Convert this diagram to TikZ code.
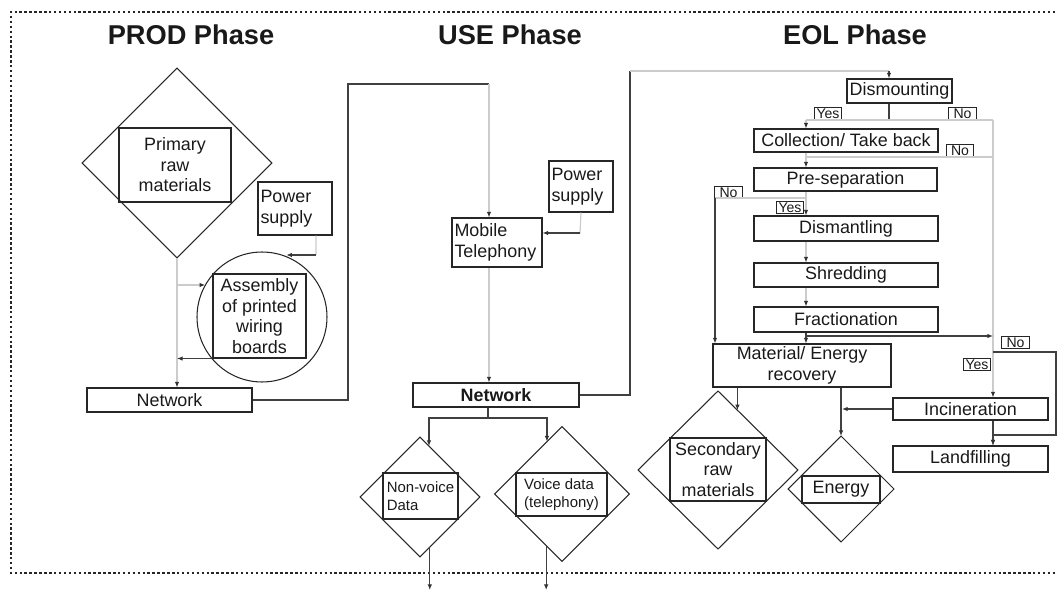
\documentclass[tikz,border=0pt]{standalone}
\usepackage{fontspec}
\setmainfont{Liberation Sans}
\usetikzlibrary{arrows.meta,shapes.geometric}
\tikzset{
	box/.style={draw=black!85, line width=0.6pt, inner sep=1pt, align=center, text=black!90, font=\fontsize{10.2}{11.7}\selectfont},
	lbox/.style={box, align=left, inner sep=0.05cm},
	dia/.style={draw=black!85, line width=0.6pt, diamond, inner sep=0pt, outer sep=0pt},
	tag/.style={draw=black!85, line width=0.5pt, inner xsep=1pt, inner ysep=0.5pt, minimum width=0.55cm, text height=5.8pt, text depth=0pt, text=black!90, font=\fontsize{8}{9}\selectfont},
	phase/.style={text=black!90, font=\bfseries\fontsize{15.5}{18}\selectfont},
	darkline/.style={draw=black!75, line width=0.7pt},
	liteline/.style={draw=black!20, line width=0.7pt},
	arr/.style={-{Latex[length=3.2pt,width=2.6pt,color=black!80]}},
	frame/.style={draw=black!85, line width=1.5pt, dash pattern=on 1.4pt off 1.4pt}
}

\begin{document}
\begin{tikzpicture}[x=0.02cm,y=-0.02cm]
			%%%%% START %%%%%
			\useasboundingbox (0,0) rectangle (1059,591);
			\draw[frame] (1055,12) -- (11,12) -- (11,573) -- (1055,573);
			
			\node[phase] (tprod) at (191,35) {PROD Phase};
			\node[phase] (tuse) at (510,35) {USE Phase};
			\node[phase] (teol) at (855,35) {EOL Phase};
			
			%% PROD
			\node[dia, minimum width=3.8cm, minimum height=3.8cm] (rawD) at (177,163) {};
			\node[box, minimum width=2.24cm, minimum height=1.48cm] (raw) at (175,165) {Primary\\raw\\materials};
			\node[lbox, minimum height=1.06cm, text width=1.38cm] (ps1) at (295,208.5) {Power\\supply};
			\node[draw=black!85, line width=0.6pt, circle, minimum size=2.6cm, inner sep=0pt, outer sep=0pt] (asmC) at (262,317) {};
			\node[box, minimum width=1.86cm, minimum height=1.68cm] (asm) at (259.5,316) {Assembly\\of printed\\wiring\\boards};
			\node[box, minimum width=3.3cm, minimum height=0.48cm] (net1) at (169.5,400) {Network};
			
			\coordinate (b1) at (177,285);
			\coordinate (p1) at (316,255);
			\draw[liteline, arr] (rawD.south) -- (rawD.south |- net1.north);
			\draw[liteline, arr] (b1) -- (b1 -| asmC.151);
			\draw[liteline] ([xshift=0.42cm]ps1.south) -- (p1);
			\draw[darkline, arr] (p1) -- (p1 -| asmC.68);
			\draw[darkline, arr] (asm.south west) -- (rawD.south |- asm.south west);
			
			%% USE
			\node[lbox, minimum height=0.98cm, text width=1.7cm] (mob) at (497,242.5) {Mobile\\Telephony};
			\node[lbox, minimum height=1.02cm, text width=1.18cm] (ps2) at (581,186.5) {Power\\supply};
			\node[box, minimum width=3.32cm, minimum height=0.48cm, font=\bfseries\fontsize{10.2}{11.7}\selectfont] (net2) at (496,395) {Network};
			\node[dia, minimum width=2.4cm, minimum height=2.4cm] (nvD) at (420,497) {};
			\node[box, align=left, minimum width=1.5cm, minimum height=0.92cm, font=\fontsize{8.5}{10.5}\selectfont] (nv) at (420.5,496) {Non-voice\\Data};
			\node[dia, minimum width=2.7cm, minimum height=2.7cm] (vdD) at (562,494) {};
			\node[box, align=left, minimum width=1.82cm, minimum height=0.86cm, font=\fontsize{8.5}{10.5}\selectfont] (vd) at (561.5,494.5) {Voice data\\(telephony)};
			
			\coordinate (k1) at (348,84);
			\coordinate (k2) at (489,84);
			\coordinate (k3) at (488,418);
			\coordinate (q1) at (580,233);
			\coordinate (o1) at (0,590);
			\draw[darkline] (net1.east) -| (k1) -- (k2);
			\draw[liteline, arr] (k2) -- (k2 |- mob.north);
			\draw[liteline, arr] (k2 |- mob.south) -- (k2 |- net2.north);
			\draw[liteline] (ps2.south) -- (q1);
			\draw[darkline, arr] (q1) -- (q1 -| mob.east);
			\draw[darkline] (k3 |- net2.south) -- (k3);
			\draw[darkline, arr] (k3) -| (nvD.80);
			\draw[darkline, arr] (k3) -| (vdD.106);
			\draw[darkline, arr] (nvD.-79) -- (nvD.-79 |- o1);
			\draw[darkline, arr] (vdD.253) -- (vdD.253 |- o1);
			
			%% EOL
			\node[box, minimum width=2.1cm, minimum height=0.48cm] (dism) at (899.5,91) {Dismounting};
			\node[box, minimum width=3.68cm, minimum height=0.46cm] (coll) at (846,140.5) {Collection/ Take back};
			\node[box, minimum width=3.66cm, minimum height=0.46cm] (presep) at (845.5,179.5) {Pre-separation};
			\node[box, minimum width=3.68cm, minimum height=0.5cm] (dismant) at (846,228.5) {Dismantling};
			\node[box, minimum width=3.68cm, minimum height=0.48cm] (shred) at (846,275) {Shredding};
			\node[box, minimum width=3.68cm, minimum height=0.5cm] (frac) at (846,319.5) {Fractionation};
			\node[box, minimum width=3.56cm, minimum height=0.86cm] (mat) at (802,365.5) {Material/ Energy\\recovery};
			\node[box, minimum width=3.1cm, minimum height=0.44cm] (inc) at (970.5,409) {Incineration};
			\node[box, minimum width=3.1cm, minimum height=0.52cm] (land) at (970.5,459) {Landfilling};
			\node[dia, minimum width=3.2cm, minimum height=3.16cm] (secD) at (718,470) {};
			\node[box, minimum width=1.92cm, minimum height=1.26cm] (sec) at (718,469.5) {Secondary\\raw\\materials};
			\node[dia, minimum width=2.12cm, minimum height=2.12cm] (enD) at (841,489) {};
			\node[box, minimum width=1.56cm, minimum height=0.54cm] (en) at (841,489.5) {Energy};
			
			\node[tag] (yes1) at (828,113) {Yes};
			\node[tag] (no1) at (962.5,113) {No};
			\node[tag] (no2) at (960,150.5) {No};
			\node[tag] (no3) at (728.5,192) {No};
			\node[tag] (yes3) at (790,207) {Yes};
			\node[tag] (no4) at (1015.5,342.5) {No};
			\node[tag] (yes4) at (977,364) {Yes};
			
			\coordinate (k4) at (630,71);
			\coordinate (k5) at (889,71);
			\coordinate (y1) at (806,120);
			\coordinate (n1) at (993,120);
			\coordinate (y2) at (806,157);
			\coordinate (y3) at (806,198);
			\coordinate (n3) at (715,198);
			\coordinate (y4) at (806,336);
			\coordinate (n4) at (993,352);
			\coordinate (r2) at (1056,435);
			\coordinate (e1) at (842,409);
			\draw[darkline] (net2.east) -| (k4);
			\draw[liteline] (k4) -- (k5);
			\draw[darkline, arr] (k5) -- (k5 |- dism.north);
			\draw[darkline] (k5 |- dism.south) -- (k5 |- y1);
			\draw[liteline] (y1) -- (n1);
			\draw[liteline, arr] (n1) -- (n1 |- inc.north);
			\draw[liteline, arr] (y1) -- (y1 |- coll.north);
			\draw[liteline, arr] (y1 |- coll.south) -- (y1 |- presep.north);
			\draw[liteline] (y2) -- (n1 |- y2);
			\draw[liteline, arr] (y1 |- presep.south) -- (y1 |- dismant.north);
			\draw[liteline] (y3) -- (n3);
			\draw[darkline, arr] (n3) -- (n3 |- mat.north);
			\draw[liteline, arr] (y1 |- dismant.south) -- (y1 |- shred.north);
			\draw[liteline, arr] (y1 |- shred.south) -- (y1 |- frac.north);
			\draw[darkline, arr] (y1 |- frac.south) -- (y1 |- mat.north);
			\draw[darkline, arr] (y4) -- (n1 |- y4);
			\draw[darkline, arr] (n4) -| (r2) -- (n1 |- r2) -- (n1 |- land.north);
			\draw[darkline, arr] (n1 |- inc.south) -- (n1 |- land.north);
			\draw[darkline, arr] (inc.west) -- (e1);
			\draw[darkline, arr] (mat.south -| secD.72) -- (secD.72);
			\draw[darkline, arr] (mat.south -| enD.north) -- (enD.north);
			
			%%%%% END %%%%%
\end{tikzpicture}
\end{document}
